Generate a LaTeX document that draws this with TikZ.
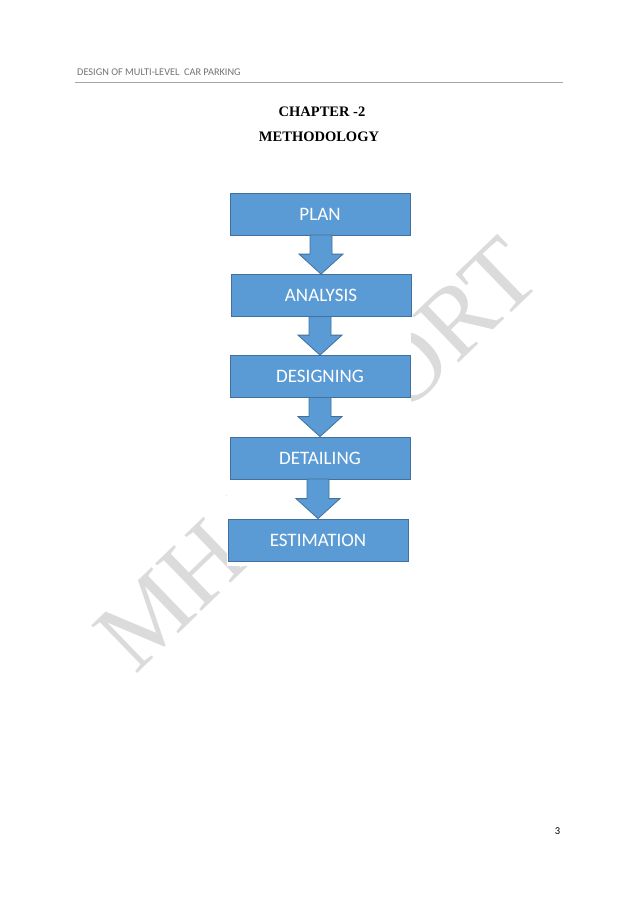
\documentclass[tikz,border=0pt]{standalone}
\usepackage{fontspec}
\setmainfont{Liberation Serif}
\newfontfamily\calibri{Carlito}
\usetikzlibrary{calc}
\definecolor{officeblue}{HTML}{5B9BD5}
\definecolor{officeedge}{HTML}{41719C}
\tikzset{
	stage/.style={draw=officeedge,fill=officeblue,line width=0.8pt,minimum width=180pt,minimum height=42pt,inner sep=0pt,text=white,font=\calibri\fontsize{19}{23}\selectfont},
	blockarrow/.style={draw=officeedge,fill=officeblue,line width=0.8pt,line join=miter}
}
% block arrow between two stages
\newcommand{\stagearrow}[2]{%
	\coordinate (sa) at (#1.south -| #2.north);
	\filldraw[blockarrow] ($(sa)+(-11,-0.4)$) -- ($(#2.north)+(-11,-20)$) -- ($(#2.north)+(-22,-20)$) -- (#2.north)
		-- ($(#2.north)+(22,-20)$) -- ($(#2.north)+(11,-20)$) -- ($(sa)+(11,-0.4)$) -- cycle;
}
\begin{document}
\begin{tikzpicture}[x=1pt,y=-1pt]
	\fill[white] (0,0) rectangle (638,903);
	\useasboundingbox (0,0) rectangle (638,903);

	% page header
	\node[anchor=base west,inner sep=0pt,text=black!55,font=\calibri\fontsize{10.3}{12}\selectfont] (head) at (77,75.5) {DESIGN OF MULTI-LEVEL\ \ CAR PARKING};
	\draw[black!35,line width=0.7pt] (75,82) -- (563,82);

	% watermark
	\node[anchor=base,rotate=44,inner sep=0pt,text=black!14,font=\fontsize{101}{101}\selectfont] (mark) at (340,478) {MH REPORT};
	\fill[white] (227,188) rectangle (411,566);

	% title
	\node[font=\bfseries\fontsize{14.5}{17}\selectfont,inner sep=0pt] (chap) at (322,111.5) {CHAPTER -2};
	\node[font=\bfseries\fontsize{14.5}{17}\selectfont,inner sep=0pt] (meth) at (319,137) {METHODOLOGY};

	% flow chart
	\node[stage] (plan) at (320,214) {PLAN};
	\node[stage] (anal) at (321,295.5) {ANALYSIS};
	\node[stage] (desi) at (320,376.5) {DESIGNING};
	\node[stage] (deta) at (320,458) {DETAILING};
	\node[stage] (esti) at (318,540) {ESTIMATION};

	\stagearrow{plan}{anal}
	\stagearrow{anal}{desi}
	\stagearrow{desi}{deta}
	\stagearrow{deta}{esti}

	% page number
	\node[font=\calibri\fontsize{10.5}{12}\selectfont,inner sep=0pt] (pnum) at (557.5,831.5) {3};
\end{tikzpicture}
\end{document}
